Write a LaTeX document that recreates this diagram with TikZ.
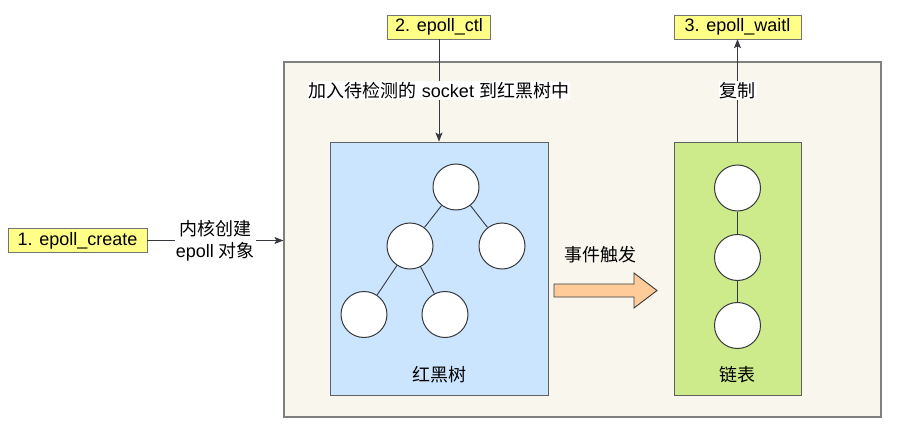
\documentclass[tikz,border=0pt]{standalone}
\usepackage{fontspec}
\setmainfont{Liberation Sans}
\newfontfamily\cjk{Noto Sans CJK SC}
\usetikzlibrary{arrows.meta}
\definecolor{kernelbg}{HTML}{F9F7ED}
\definecolor{treebg}{HTML}{CCE5FF}
\definecolor{listbg}{HTML}{CDEB8B}
\definecolor{callbg}{HTML}{FFFF88}
\definecolor{eventbg}{HTML}{FFCC99}
\definecolor{edge}{HTML}{36393D}
\begin{document}
\begin{tikzpicture}[x=1pt, y=-1pt, font=\fontsize{18}{22}\selectfont,
    call/.style={draw=edge!70, fill=callbg, minimum height=24pt, inner sep=0pt},
    region/.style={draw=edge!80, line width=0.9pt, inner sep=0pt},
    ball/.style={circle, draw=edge, fill=white, line width=1pt, minimum size=46pt, inner sep=0pt},
    link/.style={draw=edge, line width=0.9pt},
    flow/.style={link, -{Stealth[length=9pt,width=7pt,inset=2pt]}},
    tag/.style={fill=white, inner sep=1pt, align=center}]
            \useasboundingbox (0,0) rectangle (906,431);

            \node[region, draw=black!50, line width=1.2pt, fill=kernelbg, minimum width=597pt, minimum height=355pt] (kernel) at (582.5,239.5) {};
            \node[region, fill=treebg, minimum width=218pt, minimum height=253pt] (tree) at (439,268.5) {};
            \node[region, fill=listbg, minimum width=127pt, minimum height=253pt] (list) at (737.5,268.5) {};

            \node[call, minimum width=139pt] (create) at (77.5,240.5) {1. epoll\_create};
            \node[call, minimum width=103pt] (ctl) at (439,27) {2. epoll\_ctl};
            \node[call, minimum width=127pt] (waitl) at (737.5,27) {3. epoll\_waitl};

            \node[ball] (r) at (456,187) {};
            \node[ball] (rl) at (410,246) {};
            \node[ball] (rr) at (502,246) {};
            \node[ball] (rll) at (364,314.5) {};
            \node[ball] (rlr) at (445,314.5) {};
            \draw[link] (r) -- (rl);
            \draw[link] (r) -- (rr);
            \draw[link] (rl) -- (rll);
            \draw[link] (rl) -- (rlr);

            \node[ball] (l1) at (737.5,188) {};
            \node[ball] (l2) at (737.5,257.5) {};
            \node[ball] (l3) at (737.5,325.5) {};
            \draw[link] (l1) -- (l2);
            \draw[link] (l2) -- (l3);

            \node (treename) at (439,375) {\cjk 红黑树};
            \node (listname) at (737.5,375) {\cjk 链表};
            \node (event) at (600,255) {\cjk 事件触发};

            \draw[link, fill=eventbg] (554,284) -- (634,284) -- (634,273) -- (657,290.5) -- (634,308) -- (634,297) -- (554,297) -- cycle;

            \draw[flow] (create.east) -- node[tag] {{\cjk 内核创建}\\epoll {\cjk 对象}} (create -| kernel.west);
            \draw[flow] (ctl) -- node[tag] {{\cjk 加入待检测的} socket {\cjk 到红黑树中}} (tree.north);
            \draw[flow] (list.north) -- node[tag] {\cjk 复制} (waitl.south);
        \end{tikzpicture}
\end{document}
